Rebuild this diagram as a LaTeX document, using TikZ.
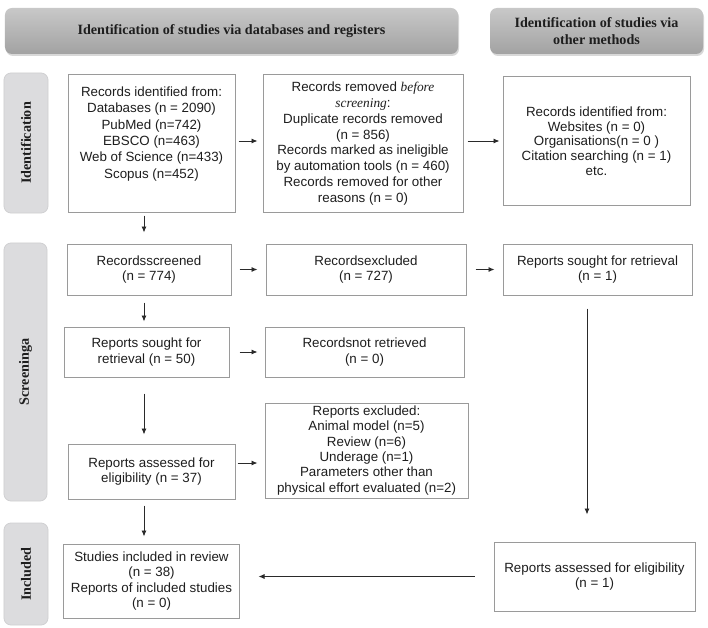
\documentclass[tikz,border=0pt]{standalone}
\usepackage{fontspec}
\newfontfamily\boxfont{Liberation Sans}
\newfontfamily\itfont{Liberation Serif}
\newfontfamily\headfont{Liberation Serif}
\usetikzlibrary{arrows.meta,shadows,calc}
\definecolor{boxline}{HTML}{9A9A9A}
\definecolor{sidefill}{HTML}{DCDCDE}
\definecolor{sideline}{HTML}{D0D0D2}
\definecolor{inktext}{HTML}{1E1E1E}
\definecolor{arrowink}{HTML}{2A2A2A}
\definecolor{hdrtop}{HTML}{C8C8C8}
\definecolor{hdrbot}{HTML}{A2A2A2}
\begin{document}
\begin{tikzpicture}[x=1bp,y=-1bp,
  flowbox/.style={draw=boxline, line width=1bp, inner sep=0pt, align=center, text=inktext, font=\boxfont\fontsize{13.4}{15.8}\selectfont},
  flowtext/.style={inner sep=0pt, align=center, text=inktext, font=\boxfont\fontsize{13.4}{16.4}\selectfont},
  sidebox/.style={fill=sidefill, draw=sideline, line width=0.8bp, rounded corners=7bp, inner sep=0pt},
  sidetext/.style={rotate=90, inner sep=0pt, font=\headfont\bfseries\fontsize{14.2}{16}\selectfont, text=inktext},
  hdrbox/.style={top color=hdrtop, bottom color=hdrbot, draw=none, rounded corners=7bp, drop shadow={shadow xshift=1bp, shadow yshift=-2bp, opacity=0.3}, align=center, font=\headfont\bfseries\fontsize{14.2}{17}\selectfont, text=inktext, inner sep=0pt},
  arr/.style={draw=arrowink, line width=0.9bp, -{Latex[length=6bp,width=5bp]}},
]
\fill[white] (0,0) rectangle (708,628);
\useasboundingbox (0,0) rectangle (708,628);

% headers
\node[hdrbox, minimum width=453bp, minimum height=46bp] (hdrA) at (231.5,31) {Identification of studies via databases and registers};
\node[hdrbox, minimum width=213bp, minimum height=46bp] (hdrB) at (596.5,31) {Identification of studies via\\ other methods};

% side labels
\node[sidebox, minimum width=44bp, minimum height=140bp] (sideI) at (26,143) {};
\node[sidetext] (sideIt) at (sideI.center) {Identification};
\node[sidebox, minimum width=43bp, minimum height=258bp] (sideS) at (25.5,372) {};
\node[sidetext] (sideSt) at (sideS.center) {Screeninga};
\node[sidebox, minimum width=44bp, minimum height=102bp] (sideN) at (26,574) {};
\node[sidetext] (sideNt) at (sideN.center) {Included};

% identification row
\node[flowbox, minimum width=167bp, minimum height=137bp] (idrec) at (151.5,143.5) {};
\node[flowtext] (idrectext) at (151.5,134) {Records identified from:\\ Databases (n = 2090)\\ PubMed (n=742)\\ EBSCO (n=463)\\ Web of Science (n=433)\\ Scopus (n=452)};
\node[flowbox, minimum width=200bp, minimum height=137bp] (removed) at (363,143.5) {Records removed {\itfont\itshape before}\\ {\itfont\itshape screening}:\\ Duplicate records removed\\ (n = 856)\\ Records marked as ineligible\\ by automation tools (n = 460)\\ Records removed for other\\ reasons (n = 0)};
\node[flowbox, minimum width=187bp, minimum height=128bp, font=\boxfont\fontsize{13.4}{14.8}\selectfont] (other) at (596.5,141) {Records identified from:\\ Websites (n = 0)\\ Organisations(n = 0 )\\ Citation searching (n = 1)\\ etc.};

% screening rows
\node[flowbox, minimum width=164bp, minimum height=51bp] (screened) at (149,269.5) {Recordsscreened\\ (n = 774)};
\node[flowbox, minimum width=200bp, minimum height=51bp] (excluded) at (366,269.5) {Recordsexcluded\\ (n = 727)};
\node[flowbox, minimum width=189bp, minimum height=51bp] (sought3) at (597.5,269.5) {Reports sought for retrieval\\ (n = 1)};
\node[flowbox, minimum width=165bp, minimum height=50bp] (sought) at (146.5,352) {Reports sought for\\ retrieval (n = 50)};
\node[flowbox, minimum width=199bp, minimum height=50bp] (notret) at (364.5,352) {Recordsnot retrieved\\ (n = 0)};
\node[flowbox, minimum width=203bp, minimum height=95bp, font=\boxfont\fontsize{13.4}{15.4}\selectfont] (repexcl) at (366.5,450.5) {Reports excluded:\\ Animal model (n=5)\\ Review (n=6)\\ Underage (n=1)\\ Parameters other than\\ physical effort evaluated (n=2)};
\node[flowbox, minimum width=167bp, minimum height=55bp] (assessed) at (151.5,471.5) {Reports assessed for\\ eligibility (n = 37)};

% included row
\node[flowbox, minimum width=175bp, minimum height=74bp, font=\boxfont\fontsize{13.4}{15.4}\selectfont] (included) at (151.5,581) {Studies included in review\\ (n = 38)\\ Reports of included studies\\ (n = 0)};
\node[flowbox, minimum width=201bp, minimum height=69bp] (assessed3) at (594.5,576.5) {Reports assessed for eligibility\\ (n = 1)};

% column guides
\coordinate (colL) at (144,0);
\coordinate (colR) at (587,0);

% connectors
\draw[arr, shorten <=3bp, shorten >=5bp] ([yshift=2.5bp]idrec.east) -- ([yshift=2.5bp]idrec.east -| removed.west);
\draw[arr, shorten <=4bp, shorten >=3bp] (other.west -| removed.east) -- (other.west);
\draw[arr, shorten <=3bp, shorten >=11bp] (idrec.south -| colL) -- (screened.north -| colL);
\draw[arr, shorten <=7bp, shorten >=5bp] (screened.south -| colL) -- (sought.north -| colL);
\draw[arr, shorten <=16bp, shorten >=9bp] (sought.south -| colL) -- (assessed.north -| colL);
\draw[arr, shorten <=6bp, shorten >=7bp] (assessed.south -| colL) -- (included.north -| colL);
\draw[arr, shorten <=8bp, shorten >=8bp] (screened.east) -- (excluded.west);
\draw[arr, shorten <=9bp, shorten >=8bp] (excluded.east) -- (sought3.west);
\draw[arr, shorten <=10bp, shorten >=7bp] (sought.east) -- (notret.west);
\draw[arr, shorten <=2bp, shorten >=7bp] ([yshift=8.5bp]assessed.east) -- ([yshift=8.5bp]assessed.east -| repexcl.west);
\draw[arr, shorten <=13bp, shorten >=27bp] (sought3.south -| colR) -- (assessed3.north -| colR);
\draw[arr, shorten <=19bp, shorten >=19bp] (assessed3.west) -- (assessed3.west -| included.east);
\end{tikzpicture}
\end{document}
